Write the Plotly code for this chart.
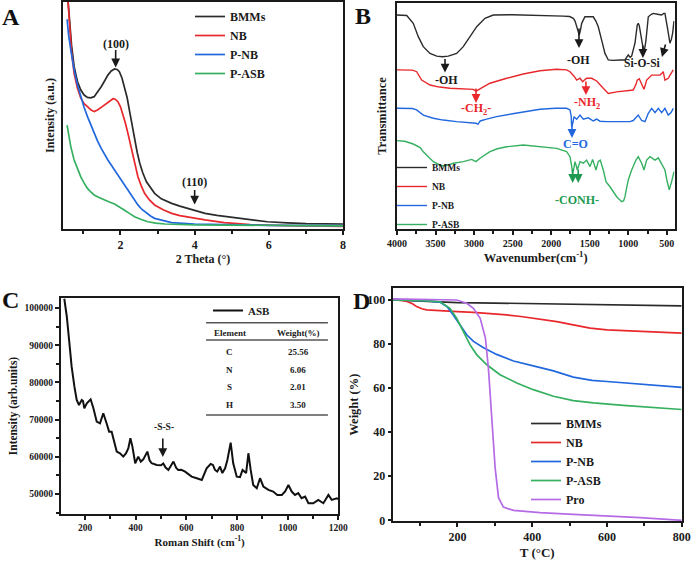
import plotly.graph_objects as go

# ---------------- Panel A : small-angle XRD ----------------
A_series = ["BMMs", "NB", "P-NB", "P-ASB"]
A_bmms_x = [0.56, 0.62, 0.68, 0.75, 0.84, 0.93, 1.02, 1.11, 1.2, 1.29, 1.38, 1.48, 1.57, 1.66, 1.75, 1.84, 1.91, 1.97,
            2.04, 2.11, 2.18, 2.24, 2.31, 2.38, 2.45, 2.52, 2.6, 2.7, 2.92, 3.1, 3.38, 3.6, 3.83, 4.05, 4.28, 4.6,
            5.04, 5.5, 5.96, 6.5, 7.0, 8.0]
A_bmms_y = [106, 92, 81, 71.5, 65, 61.2, 59, 58, 57.8, 58.3, 60.2, 62.7, 65.2, 67.8, 69.6, 70.5, 70.3, 69.3,
            66.5, 62.7, 57.8, 52.4, 45.8, 39.2, 33.8, 29.0, 24.8, 20.8, 15.7, 13.3, 11.3, 10.1, 9.1, 8.0, 6.9, 6.0,
            5.0, 4.0, 3.2, 2.7, 2.4, 2.2]
A_nb_x = [0.56, 0.62, 0.68, 0.75, 0.84, 0.93, 1.02, 1.11, 1.2, 1.29, 1.38, 1.48, 1.57, 1.66, 1.75, 1.8, 1.86, 1.93,
          2.0, 2.06, 2.13, 2.2, 2.27, 2.34, 2.4, 2.47, 2.56, 2.65, 2.78, 2.92, 3.15, 3.38, 3.6, 3.83, 4.28, 4.8,
          5.5, 6.5, 8.0]
A_nb_y = [106, 90, 78, 68.5, 62, 57.6, 55.2, 53.9, 52.5, 51.7, 52.4, 53.6, 54.6, 55.6, 56.8, 57.4, 57.2, 56.1,
          53.8, 51.0, 46.8, 42.2, 37.0, 31.9, 27.5, 23.0, 19.0, 15.7, 12.8, 10.6, 8.5, 6.9, 5.9, 5.2, 4.0, 2.8,
          1.9, 1.5, 1.2]
A_pnb_x = [0.56, 0.6, 0.66, 0.75, 0.84, 0.93, 1.02, 1.11, 1.2, 1.29, 1.38, 1.48, 1.57, 1.66, 1.75, 1.84, 1.93, 2.02,
           2.13, 2.24, 2.36, 2.47, 2.58, 2.7, 2.82, 2.92, 3.15, 3.38, 4.0, 5.0, 6.0, 8.0]
A_pnb_y = [92.4, 85.5, 78.9, 70, 63.5, 58.3, 53.5, 49.5, 45.7, 42.2, 38.8, 35.5, 32.8, 30.4, 28.2, 26.0, 23.8, 21.6,
           18.6, 15.7, 13.0, 10.6, 8.6, 6.9, 5.6, 4.7, 3.6, 2.8, 2.2, 1.8, 1.6, 1.5]
A_pasb_x = [0.56, 0.6, 0.66, 0.75, 0.84, 0.93, 1.02, 1.11, 1.2, 1.29, 1.42, 1.56, 1.7, 1.84, 1.97, 2.1, 2.24, 2.38,
            2.56, 2.74, 2.95, 3.2, 4.0, 6.0, 8.0]
A_pasb_y = [45.8, 41.5, 36.3, 30.4, 26.4, 23.0, 20.2, 17.9, 16.3, 15.0, 13.9, 12.8, 11.9, 11.0, 9.8, 8.4, 6.9, 5.4,
            4.2, 3.2, 2.6, 2.2, 1.8, 1.5, 1.4]

# ---------------- Panel B : FTIR ----------------
B_bmms_x = [4000, 3874, 3789, 3724, 3659, 3572, 3485, 3410, 3335, 3226, 3140, 3053, 2966, 2859, 2751, 2500, 2275,
            2000, 1843, 1760, 1713, 1690, 1669, 1650, 1636, 1620, 1604, 1562, 1500, 1454, 1420, 1389, 1345, 1302,
            1259, 1200, 1100, 1043, 1000, 975, 956, 913, 883, 870, 857, 826, 796, 770, 740, 700, 675, 620, 567, 540,
            524, 494, 459, 440, 424, 407]
B_bmms_y = [94.7, 94.5, 91, 85.1, 80.7, 77.7, 76.5, 76.2, 76.5, 77.7, 80.7, 85.1, 89.5, 93.2, 94.7, 94.8, 94.7,
            94.5, 94.2, 94.0, 93.2, 92, 89.5, 87, 85.8, 88, 91, 93.9, 94.0, 93.9, 92, 89.5, 83.6, 77.7,
            74.8, 74.6, 74.8, 74.8, 77, 76.0, 76.5, 82.2, 90.3, 91, 90, 83.6, 77.7, 83.6, 93.9, 95, 95.4, 95, 94.7, 95.4,
            95.4, 89.5, 82.2, 84, 86.7, 92]
B_nb_x = [4000, 3800, 3745, 3680, 3572, 3450, 3313, 3150, 3010, 2975, 2950, 2920, 2794, 2577, 2362, 2145, 1929, 1800,
          1756, 1700, 1669, 1626, 1591, 1565, 1540, 1475, 1410, 1324, 1259, 1150, 1050, 935, 900, 883, 857, 826, 796,
          761, 696, 620, 589, 560, 546, 524, 500, 481, 450, 416]
B_nb_y = [70.4, 70.3, 69.6, 65.9, 63.7, 62.8, 62.3, 62.0, 61.8, 61.0, 61.5, 62.0, 64.5, 66.7, 68.6, 70.0, 70.7, 70.4,
          69.6, 67.5, 65.9, 66.7, 65.2, 66.0, 66.7, 66.7, 65.5, 62.3, 60.0, 60.7, 61.0, 61.5, 64, 65.9, 66.5, 63.7, 61.8,
          65.9, 68.1, 68.1, 68.1, 69, 69.6, 65.9, 66.5, 66.7, 68.5, 70.4]
B_pnb_x = [4000, 3800, 3745, 3659, 3529, 3400, 3226, 3010, 2975, 2950, 2920, 2850, 2707, 2500, 2362, 2145, 1950, 1799,
           1756, 1740, 1734, 1718, 1704, 1669, 1626, 1583, 1518, 1454, 1410, 1367, 1281, 1150, 978, 935, 870, 826, 783,
           740, 696, 653, 610, 567, 524, 481, 445, 416]
B_pnb_y = [53.4, 53.3, 52.7, 50.4, 49.0, 48.2, 47.5, 47.0, 46.8, 46.3, 47.8, 48.5, 49.7, 51.0, 51.9, 53.0, 53.4, 53.4,
           52.7, 50, 45.3, 47, 49.7, 48.6, 50.4, 48.6, 49.2, 47.8, 48.6, 47.7, 47.5, 47.6, 47.5, 48.0, 50.4, 48.0, 47.5,
           51.2, 53.4, 51.5, 53.4, 51.5, 53.4, 50.4, 51.5, 53.4]
B_pasb_x = [4000, 3900, 3789, 3700, 3659, 3600, 3529, 3420, 3340, 3270, 3140, 3031, 2975, 2923, 2850, 2794, 2700,
            2577, 2362, 2145, 1929, 1800, 1756, 1735, 1722, 1705, 1691, 1675, 1661, 1626, 1583, 1540, 1497, 1462, 1419,
            1389, 1363, 1324, 1289, 1237, 1150, 1085, 1060, 1043, 1000, 956, 900, 870, 826, 796, 761, 718, 653, 610,
            567, 524, 494, 468, 437, 407]
B_pasb_y = [39.1, 38.8, 37.6, 36.0, 34.2, 32, 29.8, 27.9, 28.3, 29.1, 29.8, 30.8, 29.8, 31.3, 32.8, 34.2, 35.5,
            36.4, 37.2, 36.4, 35.7, 34.2, 32.0, 28, 24.6, 27, 29.8, 28, 26.1, 29.8, 29.1, 30.5, 27.6, 30.8, 26.1,
            29.8, 30.5, 26.1, 20.9, 18.7, 14.3, 12.1, 12.5, 14.3, 21.7, 26.1, 30.5, 32.0, 29.1, 26.1, 30.5, 32.0, 30.5,
            31.5, 29.1, 26.1, 20.9, 17.3, 21, 25.4]

# ---------------- Panel C : Raman ----------------
C_name = "ASB"
C_x = [118, 128, 137, 147, 158, 167, 176, 187, 192, 197, 207, 222, 233, 246, 259, 272, 285, 295, 305, 316, 325, 338,
       351, 362, 371, 379, 387, 398, 410, 420, 430, 446, 455, 463, 483, 500, 509, 518, 529, 549, 560, 568, 580, 595,
       610, 621, 641, 661, 680, 696, 705, 713, 722, 733, 742, 753, 762, 775, 785, 799, 812, 822, 836, 845, 854, 864,
       878, 891, 904, 924, 943, 959, 977, 990, 1003, 1016, 1029, 1042, 1055, 1069, 1082, 1101, 1121, 1141, 1161,
       1174, 1194, 1200]
C_y = [102500, 97660, 91400, 84220, 78840, 75270, 73930, 75270, 75000, 73040, 74380, 75450, 73040, 69440, 69000,
       71700, 69000, 66750, 66750, 63630, 61380, 60940, 60040, 60940, 62290, 64980, 62720, 58250, 60040, 58700,
       59300, 61380, 59000, 58250, 57800, 57700, 58200, 57100, 56450, 58700, 57000, 56450, 56500, 56000, 55100,
       54650, 54220, 53760, 56900, 58060, 57800, 56450, 56000, 57350, 55600, 56900, 59140, 63790, 58250, 54650,
       54500, 56450, 55600, 60940, 56450, 52420, 51530, 54220, 52000, 51080, 50640, 49730, 49730, 50640, 52420,
       50640, 49730, 50200, 48840, 49300, 47500, 47500, 48390, 47500, 49730, 48390, 48840, 48600]
C_table_header = ["Element", "Weight(%)"]
C_elements = ["C", "N", "S", "H"]
C_weights = ["25.56", "6.06", "2.01", "3.50"]

# ---------------- Panel D : TGA ----------------
D_series = ["BMMs", "NB", "P-NB", "P-ASB", "Pro"]
D_bmms_x = [27, 100, 200, 300, 400, 500, 600, 700, 800]
D_bmms_y = [100, 99.4, 98.8, 98.6, 98.4, 98.2, 97.9, 97.6, 97.3]
D_nb_x = [27, 50, 65, 80, 91, 105, 118, 140, 154, 200, 243, 300, 332, 370, 403, 440, 466, 510, 555, 600, 650, 689,
          740, 800]
D_nb_y = [100, 99.8, 99.3, 98.3, 97, 96, 95.5, 95.2, 95, 94.7, 94.4, 93.7, 93.2, 92.5, 91.7, 91, 90.2, 88.7, 87.2,
          86.4, 86.0, 85.7, 85.3, 85.0]
D_pnb_x = [27, 80, 109, 154, 172, 189, 207, 225, 243, 270, 305, 350, 403, 457, 510, 540, 560, 600, 650, 700, 750, 800]
D_pnb_y = [100, 99.9, 99.7, 99.0, 97, 93.2, 88.7, 84.2, 81.2, 78.3, 75.3, 72.3, 70.1, 67.8, 65.0, 64.0, 63.5, 63.0,
           62.4, 61.7, 61.0, 60.3]
D_pasb_x = [27, 80, 109, 154, 180, 198, 216, 234, 252, 279, 314, 359, 403, 457, 510, 564, 644, 720, 800]
D_pasb_y = [100, 99.9, 99.7, 99.2, 96.2, 91.7, 85.7, 79.6, 75.1, 70.6, 66.1, 62.3, 59.3, 56.3, 54.3, 53.3, 52.2,
            51.2, 50.3]
D_pro_x = [27, 100, 198, 225, 243, 261, 275, 283, 292, 301, 310, 323, 350, 421, 510, 600, 689, 800]
D_pro_y = [100.5, 100.4, 100, 98.5, 96.2, 91.7, 82.7, 69.1, 46.5, 23.8, 10.3, 6.0, 4.5, 3.5, 2.7, 2.0, 1.2, 0]

# ---------------- styling ----------------
BLACK, RED, BLUE, GREEN, PURPLE = "#2b2b2b", "#e8282c", "#2168de", "#35b060", "#b56ae6"
DKGREEN = "#1e9a50"
SERIF = "Liberation Serif"

fig = go.Figure()


def add(x, y, name, color, xa, ya, legend, width=1.7):
    fig.add_trace(go.Scatter(x=x, y=y, name=name, mode="lines", line=dict(color=color, width=width),
                             xaxis=xa, yaxis=ya, legend=legend, hoverinfo="skip"))


add(A_bmms_x, A_bmms_y, A_series[0], BLACK, "x", "y", "legend")
add(A_nb_x, A_nb_y, A_series[1], RED, "x", "y", "legend")
add(A_pnb_x, A_pnb_y, A_series[2], BLUE, "x", "y", "legend")
add(A_pasb_x, A_pasb_y, A_series[3], GREEN, "x", "y", "legend")

add(B_bmms_x, B_bmms_y, A_series[0], BLACK, "x2", "y2", "legend2", 1.4)
add(B_nb_x, B_nb_y, A_series[1], RED, "x2", "y2", "legend2", 1.4)
add(B_pnb_x, B_pnb_y, A_series[2], BLUE, "x2", "y2", "legend2", 1.4)
add(B_pasb_x, B_pasb_y, A_series[3], GREEN, "x2", "y2", "legend2", 1.4)

add(C_x, C_y, C_name, "#111111", "x3", "y3", "legend3", 2.0)

add(D_bmms_x, D_bmms_y, D_series[0], BLACK, "x4", "y4", "legend4")
add(D_nb_x, D_nb_y, D_series[1], RED, "x4", "y4", "legend4")
add(D_pnb_x, D_pnb_y, D_series[2], BLUE, "x4", "y4", "legend4")
add(D_pasb_x, D_pasb_y, D_series[3], GREEN, "x4", "y4", "legend4")
add(D_pro_x, D_pro_y, D_series[4], PURPLE, "x4", "y4", "legend4")

W, H = 696, 562


def dom_x(a, b):
    return [a / W, b / W]


def dom_y(top, bot):
    return [1 - bot / H, 1 - top / H]


def axis_common(size, ticklen=4):
    return dict(showline=True, mirror=True, linewidth=2, linecolor="#1a1a1a", showgrid=False, zeroline=False,
                ticks="outside", ticklen=ticklen, tickwidth=1.5, tickcolor="#1a1a1a",
                tickfont=dict(family=SERIF, size=size, color="#1a1a1a", weight="bold"))


def title(text, size, standoff):
    return dict(text=text, font=dict(family=SERIF, size=size, color="#1a1a1a", weight="bold"), standoff=standoff)


lay = dict(
    width=W, height=H, margin=dict(l=0, r=0, t=0, b=0), paper_bgcolor="white", plot_bgcolor="white",
    template="none", showlegend=True, hovermode=False,
    xaxis=dict(**axis_common(12), domain=dom_x(63, 343), anchor="y", range=[0.45, 8], tickvals=[2, 4, 6, 8],
               minor=dict(tickvals=[1, 3, 5, 7], ticks="outside", ticklen=3, tickcolor="#1a1a1a"),
               title=title("2 Theta (°)", 12, 2)),
    yaxis=dict(**axis_common(12), domain=dom_y(2, 229), anchor="x", range=[0, 100], showticklabels=False,
               tickvals=[], title=title("Intensity (a.u.)", 12, 0)),
    xaxis2=dict(**axis_common(10), domain=dom_x(397, 674.5), anchor="y2", range=[4000, 400],
                tickvals=[4000, 3500, 3000, 2500, 2000, 1500, 1000, 500],
                minor=dict(dtick=250, ticks="outside", ticklen=3, tickcolor="#1a1a1a"),
                title=title("Wavenumber(cm<sup>-1</sup>)", 12.5, 4)),
    yaxis2=dict(**axis_common(10), domain=dom_y(3, 229), anchor="x2", range=[0, 100], showticklabels=False,
                tickvals=[], title=title("Transmittance", 12.5, 2)),
    xaxis3=dict(**axis_common(9.5), domain=dom_x(61, 338.3), anchor="y3", range=[105, 1200],
                tickvals=[200, 400, 600, 800, 1000, 1200],
                minor=dict(dtick=100, tick0=0, ticks="outside", ticklen=3, tickcolor="#1a1a1a"),
                title=title("Roman Shift (cm<sup>-1</sup>)", 11, 6)),
    yaxis3=dict(**axis_common(9.5), domain=dom_y(298, 514), anchor="x3", range=[44600, 102700],
                tickvals=[50000, 60000, 70000, 80000, 90000, 100000], tickformat="d",
                minor=dict(dtick=5000, tick0=0, ticks="outside", ticklen=3, tickcolor="#1a1a1a"),
                title=title("Intensity (arb.units)", 11.5, 5)),
    xaxis4=dict(**axis_common(12), domain=dom_x(392.7, 681.7), anchor="y4", range=[27, 800],
                tickvals=[200, 400, 600, 800],
                minor=dict(dtick=100, tick0=0, ticks="outside", ticklen=3, tickcolor="#1a1a1a"),
                title=title("T (°C)", 13, 4)),
    yaxis4=dict(**axis_common(12, 3), domain=dom_y(288.3, 521), anchor="x4", range=[-0.3, 105.3],
                tickvals=[0, 20, 40, 60, 80, 100],
                title=title("Weight (%)", 12.5, 6)),
)

leg_font = dict(family=SERIF, color="#1a1a1a", weight="bold")
lay["legend"] = dict(x=190 / W, y=1 - 2 / H, xanchor="left", yanchor="top", bgcolor="rgba(0,0,0,0)",
                     font=dict(size=12, **leg_font), tracegroupgap=0)
lay["legend2"] = dict(x=392 / W, y=1 - 153 / H, xanchor="left", yanchor="top", bgcolor="rgba(0,0,0,0)",
                      font=dict(size=9.5, **leg_font), tracegroupgap=0)
lay["legend3"] = dict(x=208 / W, y=1 - 296 / H, xanchor="left", yanchor="top", bgcolor="rgba(0,0,0,0)",
                      font=dict(size=11, **leg_font))
lay["legend4"] = dict(x=526 / W, y=1 - 409 / H, xanchor="left", yanchor="top", bgcolor="rgba(0,0,0,0)",
                      font=dict(size=12, **leg_font), tracegroupgap=0)
fig.update_layout(**lay)

ann = []
shapes = []


def label(x, y, text, xref, yref, color="#1a1a1a", size=12):
    ann.append(dict(x=x, y=y, xref=xref, yref=yref, text=text, showarrow=False, xanchor="center",
                    yanchor="middle", font=dict(family=SERIF, size=size, color=color, weight="bold")))


def arrow(x, y, xref, yref, length, color="#1a1a1a", dx=0):
    ann.append(dict(x=x, y=y, xref=xref, yref=yref, text="", showarrow=True, arrowhead=2, arrowsize=1.1,
                    arrowwidth=1.6, arrowcolor=color, ax=dx, ay=-length))


# panel letters
for t, px, py in [("A", 11, 17), ("B", 363, 16), ("C", 10, 300), ("D", 362, 301)]:
    ann.append(dict(x=px / W, y=1 - py / H, xref="paper", yref="paper", text=t, showarrow=False,
                    xanchor="center", yanchor="middle",
                    font=dict(family=SERIF, size=24, color="#111", weight="bold")))

# Panel A annotations
label(1.87, 81.5, "(100)", "x", "y", size=12)
arrow(1.87, 71.2, "x", "y", 19)
label(4.0, 20.8, "(110)", "x", "y", size=12)
arrow(4.0, 10.8, "x", "y", 16)

# Panel B annotations
label(3355, 65.9, "-OH", "x2", "y2", size=12)
arrow(3377, 69.2, "x2", "y2", 15)
label(2975, 53.0, "-CH<sub>2</sub>-", "x2", "y2", RED, 12)
arrow(2975, 55.8, "x2", "y2", 16, RED)
label(1639, 74.8, "-OH", "x2", "y2", size=12)
arrow(1639, 80.1, "x2", "y2", 21)
label(810, 73.5, "Si-O-Si", "x2", "y2", size=11.5)
arrow(810, 75.7, "x2", "y2", 14)
arrow(563, 76.1, "x2", "y2", 14, dx=4)
label(1536, 55.6, "-NH<sub>2</sub>", "x2", "y2", RED, 12)
arrow(1549, 59.3, "x2", "y2", 15, RED)
label(1678, 37.6, "C=O", "x2", "y2", BLUE, 12)
arrow(1730, 40.3, "x2", "y2", 18, BLUE)
label(1665, 12.8, "-CONH-", "x2", "y2", DKGREEN, 12)
arrow(1721, 20.4, "x2", "y2", 15, DKGREEN)
arrow(1649, 20.4, "x2", "y2", 15, DKGREEN)

# Panel C annotations and table
label(513, 67930, "-S-S-", "x3", "y3", size=9.5)
arrow(507, 59950, "x3", "y3", 20)
for yv in [96050, 91400, 71240]:
    shapes.append(dict(type="line", xref="x3", yref="y3", x0=678, x1=1159, y0=yv, y1=yv,
                       line=dict(color="#555", width=1.4)))
label(772, 93280, C_table_header[0], "x3", "y3", size=9)
label(1041, 93280, C_table_header[1], "x3", "y3", size=9)
for el, wt, yv in zip(C_elements, C_weights, [88170, 83330, 78760, 73930]):
    label(772, yv, el, "x3", "y3", size=9)
    label(1041, yv, wt, "x3", "y3", size=9)

fig.update_layout(annotations=ann, shapes=shapes)
fig.write_html("out.html", config={"displayModeBar": False},
               post_script="document.body.style.margin='0px';")
